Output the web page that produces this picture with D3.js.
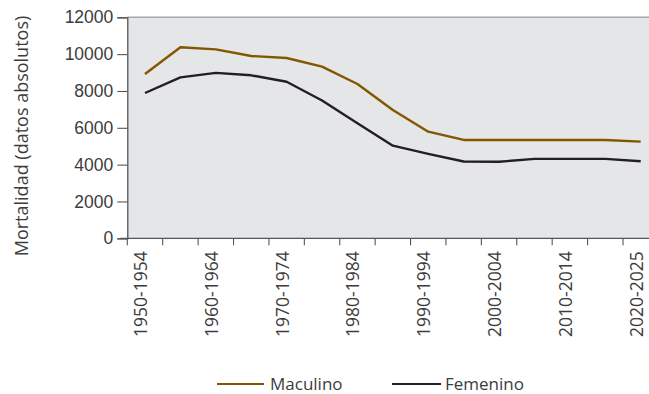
<!DOCTYPE html>
<html>
<head>
<meta charset="utf-8">
<script src="https://cdn.jsdelivr.net/npm/d3@7"></script>
<style>
  html, body { margin: 0; padding: 0; background: #fff; }
  svg { display: block; font-family: "Open Sans", "Noto Sans", sans-serif; }
</style>
</head>
<body>
<svg id="chart" width="649" height="394"></svg>
<script>
// Quinquennial periods
const periods = [
  "1950-1954", "1955-1959", "1960-1964", "1965-1969", "1970-1974",
  "1975-1979", "1980-1984", "1985-1989", "1990-1994", "1995-1999",
  "2000-2004", "2005-2009", "2010-2014", "2015-2019", "2020-2025"
];
// Deaths, absolute numbers
const masculino = [8920, 10370, 10260, 9900, 9790, 9320, 8380, 6970, 5790, 5340, 5340, 5340, 5340, 5340, 5250];
const femenino  = [7890, 8740, 8980, 8850, 8500, 7480, 6250, 5030, 4580, 4170, 4160, 4310, 4310, 4310, 4180];
const yTicks = [0, 2000, 4000, 6000, 8000, 10000, 12000];
const seriesNames = ["Maculino", "Femenino"];
const seriesColors = ["#835600", "#231f20"];

const svg = d3.select("#chart");
const plotLeft = 127.3, plotRight = 658.4, plotTop = 17.3, plotBottom = 238.3;
const textColor = "#3c3c3c";

const x = d3.scaleBand().domain(periods).range([plotLeft, plotRight]);
const y = d3.scaleLinear().domain([0, 12000]).range([plotBottom, plotTop]);

// plot background and top border
svg.append("rect")
  .attr("x", plotLeft).attr("y", plotTop)
  .attr("width", plotRight - plotLeft).attr("height", plotBottom - plotTop)
  .attr("fill", "#e5e6e8");
svg.append("line")
  .attr("x1", plotLeft).attr("x2", plotRight)
  .attr("y1", plotTop).attr("y2", plotTop)
  .attr("stroke", "#a6a7a9").attr("stroke-width", 1.5);

// y axis
const yAxis = svg.append("g")
  .attr("transform", `translate(${plotLeft},0)`)
  .call(d3.axisLeft(y).tickValues(yTicks).tickSize(10).tickPadding(4).tickFormat(d3.format("d")));
yAxis.select(".domain").attr("stroke", "#555").attr("stroke-width", 1.3);
yAxis.selectAll(".tick line").attr("stroke", "#555").attr("stroke-width", 1.1);
yAxis.selectAll(".tick text")
  .attr("fill", textColor).style("font-size", "17.5px");

// x axis with category boundary ticks
const xg = svg.append("g").attr("transform", `translate(0,${plotBottom})`);
xg.append("line")
  .attr("x1", plotLeft - 7).attr("x2", plotRight)
  .attr("y1", 0).attr("y2", 0)
  .attr("stroke", "#555").attr("stroke-width", 1.3);
const bounds = periods.map(p => x(p)).concat([plotRight]);
xg.selectAll("line.tk").data(bounds).join("line")
  .attr("class", "tk")
  .attr("x1", d => d).attr("x2", d => d)
  .attr("y1", 0).attr("y2", 7)
  .attr("stroke", "#555").attr("stroke-width", 1.1);
xg.selectAll("text").data(periods.filter((p, i) => i % 2 === 0)).join("text")
  .attr("transform", d => `translate(${x(d) + x.bandwidth() / 2 + 2},13) rotate(-90)`)
  .attr("text-anchor", "end")
  .attr("fill", textColor)
  .style("font-size", "17.5px")
  .text(d => d);

// y axis title
svg.append("text")
  .attr("transform", "translate(28,136) rotate(-90)")
  .attr("text-anchor", "middle")
  .attr("fill", textColor)
  .style("font-size", "18px")
  .text("Mortalidad (datos absolutos)");

// series lines
const line = d3.line()
  .x((d, i) => x(periods[i]) + x.bandwidth() / 2)
  .y(d => y(d));
[masculino, femenino].forEach((vals, k) => {
  svg.append("path")
    .datum(vals)
    .attr("fill", "none")
    .attr("stroke", seriesColors[k])
    .attr("stroke-width", 2.4)
    .attr("stroke-linejoin", "round")
    .attr("d", line);
});

// legend
const legendItems = [
  { name: seriesNames[0], color: seriesColors[0], x0: 217, x1: 264, tx: 270 },
  { name: seriesNames[1], color: seriesColors[1], x0: 392, x1: 441, tx: 445 }
];
const lg = svg.append("g");
legendItems.forEach(it => {
  lg.append("line")
    .attr("x1", it.x0).attr("x2", it.x1)
    .attr("y1", 384).attr("y2", 384)
    .attr("stroke", it.color).attr("stroke-width", 2.2);
  lg.append("text")
    .attr("x", it.tx).attr("y", 390)
    .attr("fill", textColor)
    .style("font-size", "17px")
    .text(it.name);
});
</script>
</body>
</html>
